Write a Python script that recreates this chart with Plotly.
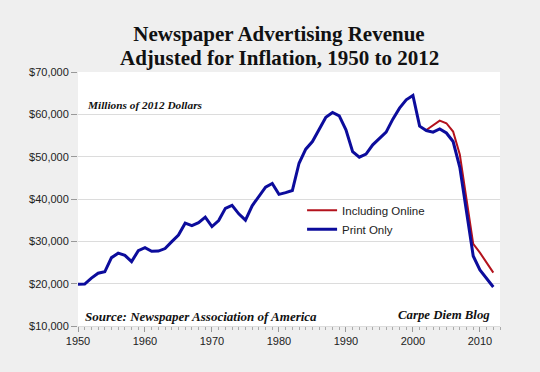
import plotly.graph_objects as go

years = list(range(1950, 2013))
print_only = [19860, 19900, 21300, 22460, 22800, 26150, 27200, 26700, 25200, 27800,
              28500, 27650, 27700, 28300, 29930, 31500, 34280, 33700, 34400, 35700,
              33500, 34900, 37800, 38500, 36500, 35000, 38400, 40600, 42800, 43650,
              41100, 41500, 42000, 48450, 51770, 53570, 56570, 59330, 60430, 59650,
              56330, 51200, 49880, 50590, 52790, 54370, 55790, 58860, 61460, 63430,
              64440, 57200, 56170, 55790, 56570, 55600, 53570, 47500, 37500, 26550,
              23240, 21110, 19200]
online_years = list(range(2002, 2013))
incl_online = [56300, 57500, 58500, 57900, 55930, 50500, 40300, 29390, 27330, 24960, 22600]

title_lines = ["Newspaper Advertising Revenue", "Adjusted for Inflation, 1950 to 2012"]
x_ticks = [1950, 1960, 1970, 1980, 1990, 2000, 2010]
y_ticks = [10000, 20000, 30000, 40000, 50000, 60000, 70000]

fig = go.Figure()
fig.add_trace(go.Scatter(x=online_years, y=incl_online, mode="lines", name="Including Online",
                         line=dict(color="#b3121c", width=2)))
fig.add_trace(go.Scatter(x=years, y=print_only, mode="lines", name="Print Only",
                         line=dict(color="#0c0c9c", width=3)))

serif = "Liberation Serif"
title_font = dict(family=serif, size=21, color="#111111", weight="bold")
fig.update_layout(
    width=540, height=372,
    margin=dict(l=78, r=40, t=72, b=46),
    paper_bgcolor="#efefef", plot_bgcolor="#ffffff",
    title=dict(text=title_lines[0], x=279/540, xanchor="center",
               y=1 - 33.5/372, yanchor="middle", yref="container",
               font=title_font),
    showlegend=True,
    legend=dict(x=0.531, y=0.513, xanchor="left", yanchor="top", bgcolor="rgba(0,0,0,0)",
                font=dict(family="Liberation Sans", size=11.5, color="#222222"),
                itemwidth=30, tracegroupgap=0),
    xaxis=dict(range=[1950, 2013], tickvals=x_ticks, ticks="outside", ticklen=5,
               tickcolor="#999999", showgrid=False, zeroline=False, automargin=False,
               showline=True, linecolor="#dddddd", linewidth=1,
               tickfont=dict(family="Liberation Sans", size=11, color="#222222"),
               minor=dict(dtick=1, ticks="outside", ticklen=3, tickcolor="#aaaaaa", showgrid=False)),
    yaxis=dict(range=[10000, 70000], tickvals=y_ticks, tickformat="$,.0f", ticks="outside",
               ticklen=6, tickcolor="#999999", showgrid=True, gridcolor="#dcdcdc", gridwidth=1,
               zeroline=False, showline=False, automargin=False,
               tickfont=dict(family="Liberation Sans", size=11, color="#222222")),
    annotations=[
        dict(text=title_lines[1], xref="paper", yref="paper",
             x=(279 - 78) / 422, y=(326 - 57.5) / 254, xanchor="center", yanchor="middle",
             showarrow=False, font=title_font),
        dict(text="<b><i>Millions of 2012 Dollars</i></b>", xref="paper", yref="paper",
             x=0.0166, y=0.870, xanchor="left", yanchor="middle", showarrow=False,
             font=dict(family=serif, size=11.3, color="#111111")),
        dict(text="<b><i>Source: Newspaper Association of America</i></b>", xref="paper", yref="paper",
             x=0.012, y=0.039, xanchor="left", yanchor="middle", showarrow=False,
             font=dict(family=serif, size=13, color="#111111")),
        dict(text="<b><i>Carpe Diem Blog</i></b>", xref="paper", yref="paper",
             x=0.981, y=0.045, xanchor="right", yanchor="middle", showarrow=False,
             font=dict(family=serif, size=12.8, color="#111111")),
    ],
)

fig.write_html("out.html", config={"displayModeBar": False},
               post_script="document.body.style.margin='0';")
